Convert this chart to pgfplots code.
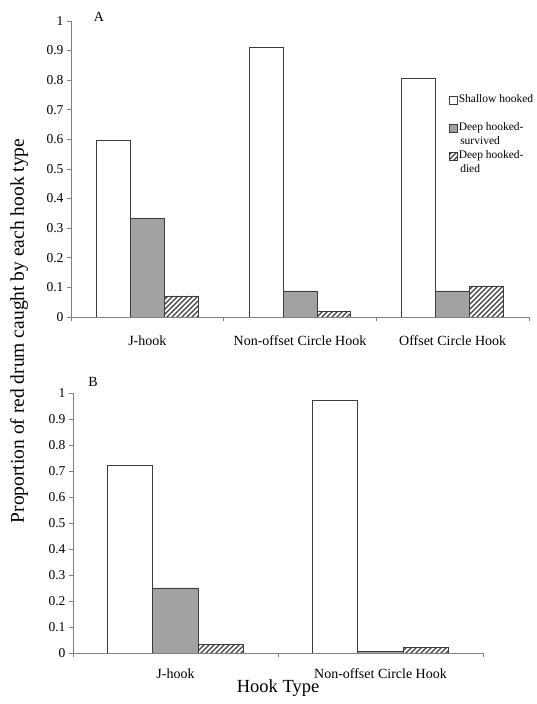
\documentclass[border=0pt]{standalone}
\usepackage{fontspec}
\setmainfont{Liberation Serif}
\usepackage{pgfplots}
\pgfplotsset{compat=1.18}
\usetikzlibrary{patterns}

\definecolor{barline}{HTML}{3C3C3C}
\definecolor{axline}{HTML}{808080}
\definecolor{midgray}{HTML}{A2A2A2}

% wider, heavier hatch than the built-in north east lines
\pgfdeclarepatternformonly{widehatch}{\pgfqpoint{-1pt}{-1pt}}{\pgfqpoint{6pt}{6pt}}{\pgfqpoint{5pt}{5pt}}{%
  \pgfsetlinewidth{1.1pt}%
  \pgfpathmoveto{\pgfqpoint{0pt}{0pt}}%
  \pgfpathlineto{\pgfqpoint{5.1pt}{5.1pt}}%
  \pgfusepath{stroke}}

\pgfplotsset{
  hookpanel/.style={
    scale only axis,
    ymin=0, ymax=1,
    ytick={0,0.1,...,1},
    yticklabel style={/pgf/number format/.cd, fixed, precision=1},
    /pgf/number format/assume math mode=true,
    axis x line*=bottom, axis y line*=left,
    axis line style={axline, line width=0.8pt},
    tick align=outside,
    major tick length=4pt, minor tick length=4pt,
    ytick style={axline, line width=0.8pt},
    major x tick style={draw=none},
    minor x tick style={axline, line width=0.8pt},
    tick label style={font=\fontsize{13.5}{15}\selectfont},
    xticklabel style={font=\fontsize{14}{16}\selectfont, yshift=-11pt},
    ybar, bar width=0.222,
    legend image code/.code={\draw[#1] (0pt,-4pt) rectangle (8pt,4pt);},
  },
  shallow/.style={draw=barline, fill=white, line width=0.7pt, bar shift=-0.222},
  survived/.style={draw=barline, fill=midgray, line width=0.7pt, bar shift=0},
  died/.style={draw=barline, pattern=widehatch, pattern color=barline, line width=0.7pt, bar shift=0.222},
}

\begin{document}
\begin{tikzpicture}
\path[use as bounding box] (0pt,0pt) rectangle (537pt,704pt);

% Panel A
\begin{axis}[
  hookpanel,
  at={(71pt,387pt)}, anchor=south west,
  width=458pt, height=296pt,
  xmin=-0.5, xmax=2.5,
  xtick={0,1,2},
  xticklabels={J-hook, Non-offset Circle Hook, Offset Circle Hook},
  minor xtick={-0.5,0.5,1.5,2.5},
  legend style={at={(0.825,0.757)}, anchor=north west, draw=none, fill=none,
    font=\fontsize{11.5}{14}\selectfont, row sep=0pt, inner sep=0pt,
    nodes={inner sep=1pt, text height=8.5pt, text depth=3.5pt}},
  legend cell align=left,
]
\addplot[shallow] coordinates {(0,0.598) (1,0.912) (2,0.806)};
\addlegendentry{Shallow hooked}
\addlegendimage{empty legend}
\addlegendentry{}
\addplot[survived] coordinates {(0,0.332) (1,0.088) (2,0.088)};
\addlegendentry{Deep hooked-}
\addlegendimage{empty legend}
\addlegendentry{\hspace{1.5pt}survived}
\addplot[died] coordinates {(0,0.071) (1,0.018) (2,0.105)};
\addlegendentry{Deep hooked-}
\addlegendimage{empty legend}
\addlegendentry{\hspace{1.5pt}died}
\end{axis}

% Panel B
\begin{axis}[
  hookpanel,
  at={(73pt,51pt)}, anchor=south west,
  width=410pt, height=260pt,
  xmin=-0.5, xmax=1.5,
  xtick={0,1},
  xticklabels={J-hook, Non-offset Circle Hook},
  xticklabel style={yshift=3pt},
  minor xtick={-0.5,0.5,1.5},
]
\addplot[shallow] coordinates {(0,0.720) (1,0.970)};
\addplot[survived] coordinates {(0,0.250) (1,0.006)};
\addplot[died] coordinates {(0,0.034) (1,0.020)};
\end{axis}

\node[font=\fontsize{14}{16}\selectfont] at (99pt,687pt) {A};
\node[font=\fontsize{14}{16}\selectfont] at (93pt,322pt) {B};
\node[rotate=90, font=\fontsize{19.5}{22}\selectfont] at (19pt,373pt) {Proportion of red drum caught by each hook type};
\node[font=\fontsize{18.5}{21}\selectfont] at (278pt,16pt) {Hook Type};
\end{tikzpicture}
\end{document}
